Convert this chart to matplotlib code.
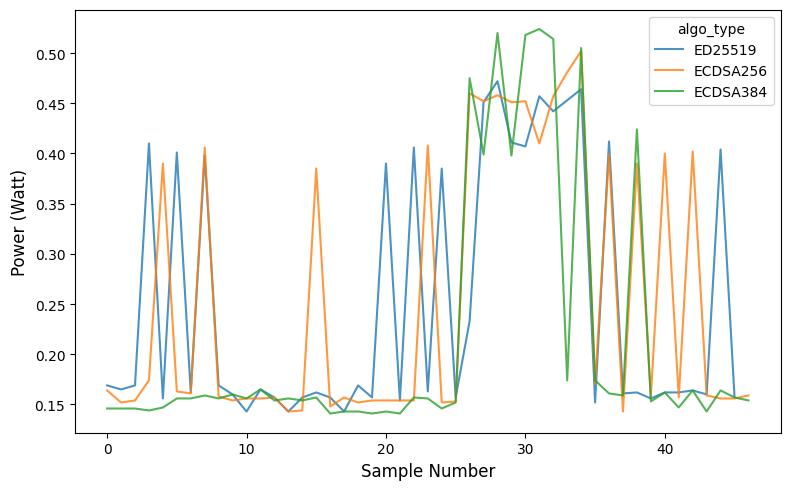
import matplotlib
matplotlib.use("Agg")
import matplotlib.pyplot as plt
import numpy as np

# power readings per sample
ed25519 = [0.169, 0.165, 0.169, 0.410, 0.156, 0.401, 0.162, 0.398, 0.169, 0.160,
           0.143, 0.165, 0.157, 0.143, 0.157, 0.162, 0.157, 0.143, 0.169, 0.157,
           0.390, 0.154, 0.406, 0.163, 0.385, 0.157, 0.233, 0.451, 0.472, 0.411,
           0.407, 0.457, 0.442, 0.453, 0.464, 0.152, 0.412, 0.161, 0.162, 0.156,
           0.162, 0.162, 0.164, 0.160, 0.404, 0.158]
ecdsa256 = [0.164, 0.152, 0.154, 0.174, 0.390, 0.163, 0.161, 0.406, 0.158, 0.154,
            0.156, 0.156, 0.157, 0.143, 0.144, 0.385, 0.148, 0.157, 0.152, 0.154,
            0.154, 0.154, 0.154, 0.408, 0.152, 0.153, 0.460, 0.452, 0.458, 0.451,
            0.452, 0.410, 0.457, 0.481, 0.502, 0.170, 0.399, 0.143, 0.390, 0.158,
            0.400, 0.157, 0.402, 0.159, 0.156, 0.156, 0.159]
ecdsa384 = [0.146, 0.146, 0.146, 0.144, 0.147, 0.156, 0.156, 0.159, 0.156, 0.160,
            0.156, 0.165, 0.154, 0.156, 0.154, 0.157, 0.141, 0.143, 0.143, 0.141,
            0.143, 0.141, 0.157, 0.156, 0.146, 0.152, 0.475, 0.399, 0.520, 0.398,
            0.518, 0.524, 0.514, 0.174, 0.505, 0.174, 0.161, 0.159, 0.424, 0.153,
            0.162, 0.147, 0.164, 0.143, 0.164, 0.157, 0.154]

series = {"ED25519": ed25519, "ECDSA256": ecdsa256, "ECDSA384": ecdsa384}
colors = ["#1f77b4", "#ff7f0e", "#2ca02c"]

fig, ax = plt.subplots(figsize=(7.9, 4.89), dpi=100)
for (name, vals), c in zip(series.items(), colors):
    ax.plot(np.arange(len(vals)), vals, color=c, alpha=0.8, linewidth=1.5, label=name)

ax.set_xlabel("Sample Number", fontsize=12)
ax.set_ylabel("Power (Watt)", fontsize=12)
ax.legend(title="algo_type", loc="upper right")
fig.subplots_adjust(left=0.095, right=0.988, top=0.978, bottom=0.113)
fig.savefig("out.png")
